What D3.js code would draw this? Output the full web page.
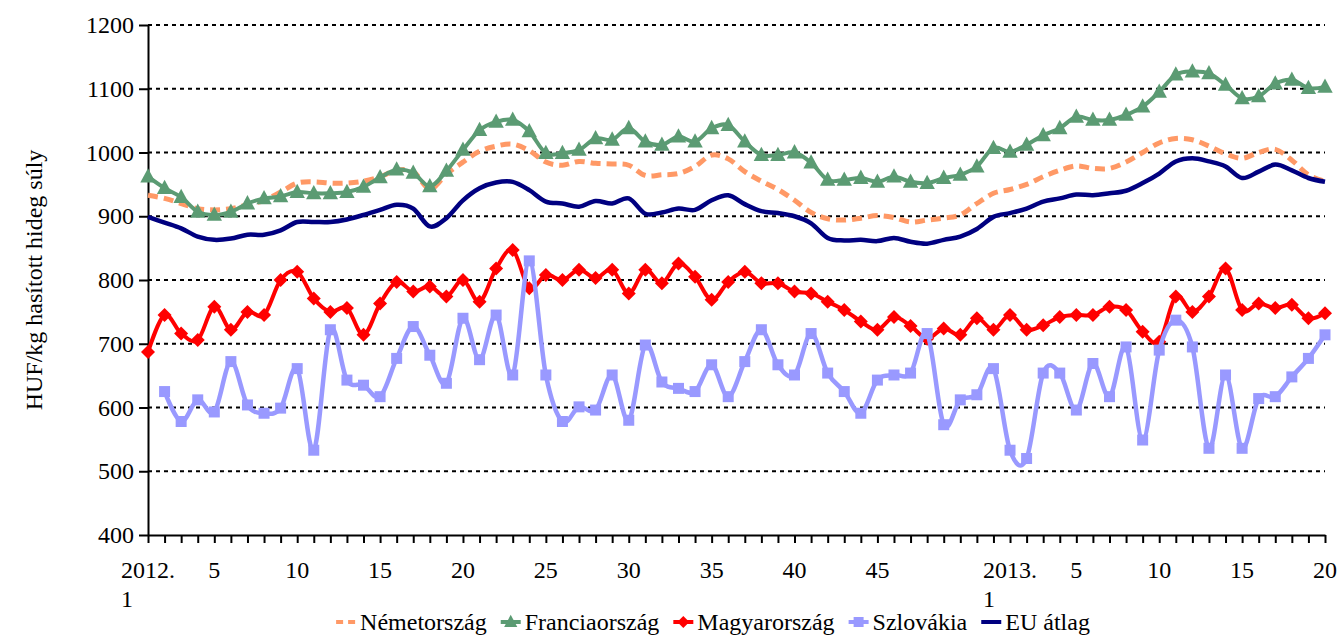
<!DOCTYPE html>
<html>
<head>
<meta charset="utf-8">
<script src="https://cdnjs.cloudflare.com/ajax/libs/d3/7.8.5/d3.min.js"></script>
<style>
  body { margin: 0; background: #fff; }
  text { font-family: "Liberation Serif", "Times New Roman", serif; }
</style>
</head>
<body>
<svg id="chart"></svg>
<script>
// weekly categories: 2012 week 1-52, 2013 week 1-20
var categories = [];
for (var i = 1; i <= 52; i++) categories.push("2012." + i);
for (var i = 1; i <= 20; i++) categories.push("2013." + i);

var tickWeeks = ["2012.1", "2012.5", "2012.10", "2012.15", "2012.20", "2012.25", "2012.30",
  "2012.35", "2012.40", "2012.45", "2013.1", "2013.5", "2013.10", "2013.15", "2013.20"];

var yTicks = [400, 500, 600, 700, 800, 900, 1000, 1100, 1200];

var nemet = [933, 928, 920, 912, 910, 912, 918, 925, 938, 952,
  954, 952, 952, 955, 962, 972, 970, 943, 966, 985,
  1002, 1010, 1013, 1003, 985, 980, 986, 983, 982, 980,
  964, 965, 967, 978, 996, 990, 970, 955, 942, 925,
  906, 896, 894, 897, 901, 898, 891, 894, 897, 902,
  920, 936, 942, 950, 962, 972, 979, 975, 975, 985,
  1000, 1015, 1022, 1020, 1010, 998, 991, 1000, 1005, 988,
  965, 955];

var francia = [962, 944, 930, 907, 902, 907, 920, 928, 931, 938,
  936, 936, 938, 946, 961, 973, 968, 947, 971, 1004,
  1035, 1048, 1051, 1033, 999, 999, 1004, 1022, 1020, 1038,
  1017, 1012, 1025, 1017, 1038, 1043, 1017, 996, 996, 1000,
  984, 957, 957, 960, 954, 962, 954, 952, 960, 965,
  978, 1007, 1001, 1012, 1027, 1038, 1056, 1051, 1051, 1059,
  1072, 1095, 1122, 1127, 1124, 1106, 1085, 1088, 1108, 1114,
  1101, 1103];

var magyar = [687, 745, 716, 706, 758, 722, 750, 745, 800, 813,
  771, 750, 756, 714, 763, 797, 782, 790, 774, 800,
  766, 818, 847, 787, 808, 800, 816, 803, 816, 779,
  816, 795, 826, 805, 769, 797, 813, 795, 795, 782,
  779, 766, 753, 735, 722, 742, 728, 708, 724, 714,
  740, 722, 745, 722, 729, 742, 745, 745, 758, 753,
  719, 703, 774, 750, 774, 818, 753, 763, 756, 761,
  740, 748];

var szlovak = [null, 625, 578, 612, 593, 672, 604, 591, 599, 661,
  533, 722, 643, 635, 617, 677, 727, 682, 638, 740,
  675, 745, 651, 830, 651, 578, 601, 596, 651, 580,
  698, 640, 630, 625, 667, 617, 672, 722, 667, 651,
  716, 654, 625, 591, 643, 651, 654, 716, 573, 612,
  620, 661, 533, 520, 654, 654, 596, 669, 617, 695,
  549, 690, 737, 695, 536, 651, 536, 614, 617, 648,
  677, 714];

var eu = [899, 890, 881, 868, 863, 865, 871, 871, 878, 891,
  891, 891, 895, 902, 910, 918, 912, 884, 897, 925,
  944, 953, 954, 941, 923, 920, 915, 924, 920, 928,
  904, 906, 912, 910, 925, 933, 919, 908, 905, 900,
  889, 866, 862, 863, 861, 866, 860, 857, 863, 868,
  880, 899, 905, 912, 923, 928, 934, 933, 936, 940,
  952, 967, 986, 991, 986, 978, 960, 970, 981, 972,
  960, 954];

var series = [
  {name: "Németország", values: nemet, color: "#FF9966", dash: "10,6", width: 5, marker: null},
  {name: "Franciaország", values: francia, color: "#5B9B73", dash: null, width: 4, marker: "triangle"},
  {name: "Magyarország", values: magyar, color: "#FF0000", dash: null, width: 4, marker: "diamond"},
  {name: "Szlovákia", values: szlovak, color: "#9999FF", dash: null, width: 4.5, marker: "square"},
  {name: "EU átlag", values: eu, color: "#000080", dash: null, width: 4.5, marker: null}
];

var w = 1340;
var h = 636;

var svg = d3.select("#chart")
  .attr("width", w)
  .attr("height", h);

var x = d3.scalePoint()
  .domain(categories)
  .range([148, 1325]);

var y = d3.scaleLinear()
  .domain([400, 1200])
  .range([535, 25]);

// dotted gridlines
svg.append("g")
  .attr("class", "grid")
  .selectAll("line")
  .data(yTicks.filter(function(v) { return v > 400; }))
  .enter()
  .append("line")
  .attr("x1", 148)
  .attr("x2", 1325)
  .attr("y1", function(d) { return y(d); })
  .attr("y2", function(d) { return y(d); })
  .attr("stroke", "#000")
  .attr("stroke-width", 2)
  .attr("stroke-dasharray", "4,4");

// x axis
var xAxis = svg.append("g")
  .attr("transform", "translate(0,535)")
  .call(d3.axisBottom(x).tickSize(8).tickSizeOuter(0).tickFormat(""));
xAxis.selectAll("path, line").attr("stroke", "#000").attr("stroke-width", 2);

var xLabels = svg.append("g").attr("class", "xlabels");
tickWeeks.forEach(function(c) {
  var parts = c.split(".");
  var px = x(c);
  if (parts[1] == "1") {
    var t = xLabels.append("text")
      .attr("x", px)
      .attr("y", 578)
      .attr("text-anchor", "middle")
      .attr("font-size", 24)
      .text(parts[0] + ".");
    var tw = t.node().getComputedTextLength();
    xLabels.append("text")
      .attr("x", px - tw / 2)
      .attr("y", 607)
      .attr("font-size", 24)
      .text("1");
  } else {
    xLabels.append("text")
      .attr("x", px)
      .attr("y", 578)
      .attr("text-anchor", "middle")
      .attr("font-size", 24)
      .text(parts[1]);
  }
});

// y axis
var yAxis = svg.append("g")
  .attr("transform", "translate(148,0)")
  .call(d3.axisLeft(y).tickValues(yTicks).tickFormat(d3.format("d"))
    .tickSize(9).tickPadding(5).tickSizeOuter(0));
yAxis.selectAll("path, line").attr("stroke", "#000").attr("stroke-width", 2);
yAxis.selectAll("text")
  .attr("font-size", 24)
  .attr("fill", "#000");

svg.append("text")
  .attr("transform", "translate(42,280) rotate(-90)")
  .attr("text-anchor", "middle")
  .attr("font-size", 24)
  .text("HUF/kg hasított hideg súly");

function markerPath(type, s) {
  if (type == "triangle") return "M0," + (-s * 0.6) + "L" + (s * 0.55) + "," + (s * 0.42) + "L" + (-s * 0.55) + "," + (s * 0.42) + "Z";
  if (type == "diamond") return "M0," + (-s / 2) + "L" + (s / 2) + ",0L0," + (s / 2) + "L" + (-s / 2) + ",0Z";
  return "M" + (-s / 2) + "," + (-s / 2) + "h" + s + "v" + s + "h" + (-s) + "Z";
}
var markerSize = {triangle: 14, diamond: 14, square: 11};

var line = d3.line()
  .defined(function(d) { return d != null; })
  .x(function(d, i) { return x(categories[i]); })
  .y(function(d) { return y(d); })
  .curve(d3.curveCardinal);

series.forEach(function(s) {
  var g = svg.append("g").attr("class", "series");
  g.append("path")
    .datum(s.values)
    .attr("d", line)
    .attr("fill", "none")
    .attr("stroke", s.color)
    .attr("stroke-width", s.width)
    .attr("stroke-dasharray", s.dash)
    .attr("stroke-linejoin", "round");
  if (s.marker) {
    g.selectAll("path.pt")
      .data(s.values.map(function(v, i) { return {v: v, c: categories[i]}; })
        .filter(function(d) { return d.v != null; }))
      .enter()
      .append("path")
      .attr("class", "pt")
      .attr("d", markerPath(s.marker, markerSize[s.marker]))
      .attr("transform", function(d) { return "translate(" + x(d.c) + "," + y(d.v) + ")"; })
      .attr("fill", s.color);
  }
});

// legend
var legend = svg.append("g").attr("class", "legend");
var lx = 0;
series.forEach(function(s) {
  var item = legend.append("g");
  item.append("line")
    .attr("x1", 0).attr("x2", 20)
    .attr("y1", 0).attr("y2", 0)
    .attr("stroke", s.color)
    .attr("stroke-width", 4)
    .attr("stroke-dasharray", s.dash ? "7,5" : null);
  if (s.marker) {
    item.append("path")
      .attr("d", markerPath(s.marker, s.marker == "square" ? 10 : 12))
      .attr("transform", "translate(10,0)")
      .attr("fill", s.color);
  }
  var t = item.append("text")
    .attr("x", 24)
    .attr("y", 8)
    .attr("font-size", 24)
    .text(s.name);
  item.attr("transform", "translate(" + lx + ",0)");
  lx += 24 + t.node().getComputedTextLength() + 14;
});
lx -= 14;
legend.attr("transform", "translate(" + (713 - lx / 2) + ",622)");
</script>
</body>
</html>
